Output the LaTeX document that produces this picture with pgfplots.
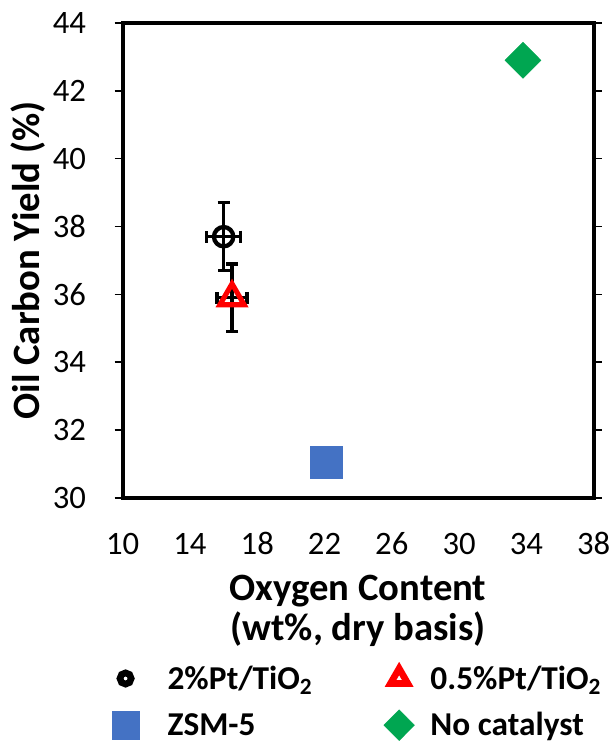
\documentclass[border=0pt]{standalone}
\usepackage{pgfplots}
\pgfplotsset{compat=1.18}
\usepackage{fontspec}
\setmainfont{Carlito}
\definecolor{zsmblue}{RGB}{68,114,196}
\definecolor{ncgreen}{RGB}{0,166,81}
\pgfplotsset{
  limgA/.style={legend image code/.code={\path[draw=none,fill=none] (-15pt,-17pt) rectangle (31.5pt,17pt);
    \draw[##1, every mark/.append style={scale=0.85}] plot coordinates {(0pt,0pt)};}},
  limgC/.style={legend image code/.code={\path[draw=none,fill=none] (-15pt,-17pt) rectangle (31.5pt,17pt);
    \path[draw=black, line width=5pt, mark=o, mark size=4.2pt, /tikz/every mark/.style={line width=5pt}] plot coordinates {(0pt,0pt)};}},
  limgT/.style={legend image code/.code={\path[draw=none,fill=none] (-15pt,-17pt) rectangle (23.5pt,17pt);
    \path[draw=red, line width=5pt, mark=triangle, mark size=7.5pt, /tikz/every mark/.style={line width=5pt}] plot coordinates {(0pt,0pt)};}},
  limgB/.style={legend image code/.code={\path[draw=none,fill=none] (-15pt,-17pt) rectangle (23.5pt,17pt);
    \draw[##1, every mark/.append style={scale=0.85}] plot coordinates {(0pt,0pt)};}},
}
\begin{document}
\begin{tikzpicture}
\begin{axis}[
  name=ax,
  scale only axis,
  width=353pt, height=356pt,
  xmin=10, xmax=38, ymin=30, ymax=44,
  xtick={10,14,...,38}, ytick={30,32,...,44},
  axis line style={line width=3pt},
  x tick style={draw=none},
  y tick style={black, line width=1.2pt},
  tick align=outside, major tick length=6pt,
  /pgf/number format/assume math mode=true,
  tick label style={font=\fontsize{24.5}{28}\selectfont},
  xticklabel style={anchor=center, yshift=-28.5pt},
  yticklabel style={anchor=east, xshift=-18pt},
  xlabel={Oxygen Content\\(wt\%, dry basis)},
  xlabel style={font=\fontsize{29}{30}\bfseries\selectfont, align=center, at={(axis description cs:0.5,-0.163)}, anchor=north, inner sep=0pt},
  ylabel={Oil Carbon Yield (\%)},
  ylabel style={font=\fontsize{29}{33}\bfseries\selectfont, at={(axis description cs:-0.201,0.5)}, anchor=center, rotate=0},
  legend columns=2,
  legend cell align=left,
  legend style={draw=none, inner sep=0pt, column sep=0pt, row sep=1pt,
    font=\fontsize{25}{30}\bfseries\selectfont,
    nodes={inner sep=0pt},
    at={(axis description cs:-0.037,-0.332)}, anchor=north west,
    /tikz/every even column/.append style={column sep=50pt}},
  clip=false,
]
\addplot[only marks, mark=o, mark size=7.25pt, line width=3.2pt, black, limgC,
  error bars/.cd, x dir=both, x explicit, y dir=both, y explicit,
  error bar style={black, line width=2.5pt},
  error mark options={rotate=90, black, line width=2.5pt, mark size=4.5pt}]
  coordinates {(16.0,37.7) +- (1.0,1.0)};
\addlegendentry{2\%Pt/TiO\textsubscript{2}}
\addplot[only marks, mark=triangle, mark size=10.5pt, line width=3.8pt, red, limgT,
  error bars/.cd, x dir=both, x explicit, y dir=both, y explicit,
  error bar style={black, line width=2.5pt},
  error mark options={rotate=90, black, line width=2.5pt, mark size=4.5pt}]
  coordinates {(16.5,35.9) +- (0.9,1.0)};
\addlegendentry{0.5\%Pt/TiO\textsubscript{2}}
\addplot[only marks, mark=square*, mark size=12pt, zsmblue, limgA] coordinates {(22.1,31.05)};
\addlegendentry{ZSM-5}
\addplot[only marks, mark=diamond*, mark size=13.5pt, mark options={xscale=1.33}, ncgreen, limgB] coordinates {(33.8,42.9)};
\addlegendentry{No catalyst}
\end{axis}
\pgfresetboundingbox
\path[use as bounding box] ([shift={(-92pt,-188.25pt)}]ax.south west) rectangle ([shift={(16.25pt,17.25pt)}]ax.north east);
\end{tikzpicture}
\end{document}
